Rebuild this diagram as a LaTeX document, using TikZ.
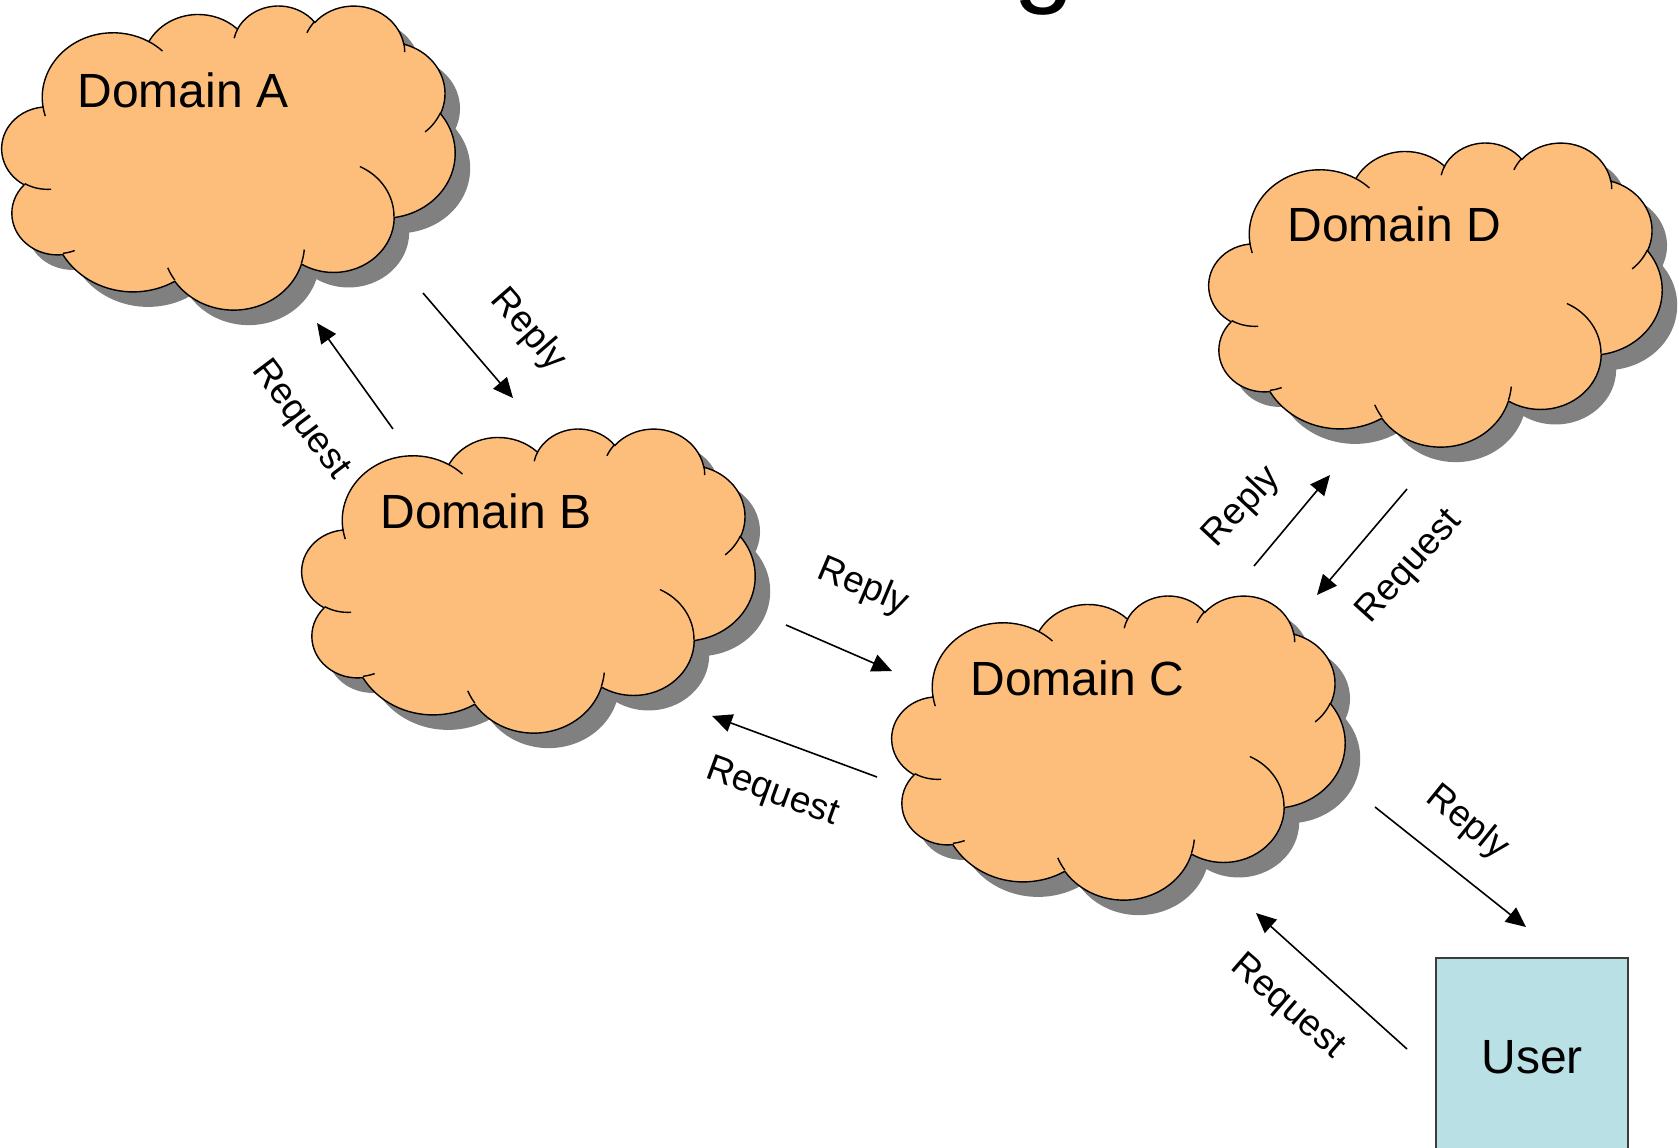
\documentclass[tikz,border=0pt]{standalone}
\usepackage{fontspec}
\setmainfont{Liberation Sans}
\usetikzlibrary{arrows.meta}
\definecolor{cloudfill}{RGB}{253,190,123}
\definecolor{shadowgray}{RGB}{128,128,128}
\definecolor{userfill}{RGB}{185,224,228}
\definecolor{userline}{RGB}{60,60,60}

% elliptical arc with "visual" start angle and sweep (DrawingML arcTo)
\def\carc#1#2#3#4{arc[x radius=#1, y radius=#2, start angle={atan2((#1)*sin(#3),(#2)*cos(#3))}, delta angle={mod(atan2((#1)*sin((#3)+(#4)),(#2)*cos((#3)+(#4)))-atan2((#1)*sin(#3),(#2)*cos(#3))+720,360)}]}

\def\cloudmain{(39,143.7)
 \carc{67.53}{91.90}{-190.4875}{123.7805}
 \carc{53.33}{72.67}{-144.1024}{89.9452}
 \carc{43.65}{59.45}{-145.8079}{99.7230}
 \carc{48.57}{65.95}{-130.9861}{117.2417}
 \carc{53.33}{72.73}{-78.7089}{109.0269}
 \carc{67.75}{92.20}{-46.2673}{130.2690}
 \carc{57.85}{78.67}{0.6250}{114.0333}
 \carc{67.52}{92.15}{22.4516}{115.1726}
 \carc{77.20}{105.43}{66.2426}{75.7110}
 \carc{43.60}{59.18}{-274.9421}{146.7356}
 \carc{43.45}{59.45}{-246.8285}{152.5189}
 -- cycle}

\def\cloudinner{(46.93,261.77) \carc{43.45}{59.45}{86.742}{26.4295}
 (69.28,348.99) \carc{43.60}{59.18}{73.6105}{11.4475}
 (164.78,390.90) \carc{67.52}{92.15}{137.6242}{14.0811}
 (288.27,347.51) \carc{67.52}{92.15}{6.4533}{15.9984}
 (341.29,229.54) \carc{57.85}{78.67}{-70.2924}{70.9174}
 (417.98,153.54) \carc{53.33}{72.73}{30.3180}{27.7515}
 (383.24,54.26) \carc{48.57}{65.95}{-13.7443}{14.8589}
 (290.78,39.52) \carc{48.57}{65.95}{-149.1815}{18.1954}
 (221.41,47.20) \carc{43.65}{59.45}{-163.4943}{17.6864}
 (140.00,51.92) \carc{67.53}{91.90}{-66.7070}{12.3194}
 (41.27,157.89) \carc{67.53}{91.90}{157.6544}{11.8582}}

\newcommand\drawcloud[2]{%
  \begin{scope}[shift={(#1+15,#2+15)}, xscale=1.0486, yscale=0.7037]
    \fill[shadowgray] \cloudmain;
  \end{scope}
  \begin{scope}[shift={(#1,#2)}, xscale=1.0486, yscale=0.7037]
    \filldraw[cloudline, fill=cloudfill] \cloudmain;
    \draw[cloudline] \cloudinner;
  \end{scope}}

\tikzset{
  cloudline/.style={draw=black, line width=0.7pt},
  domtext/.style={anchor=base west, inner sep=0pt, font=\fontsize{24}{28}\selectfont},
  msg/.style={-{Triangle[length=10pt,width=9pt]}, line width=0.8pt},
  lbl/.style={inner sep=0pt, font=\fontsize{18.5}{21}\selectfont},
  userbox/.style={draw=userline, line width=0.75pt, fill=userfill, inner sep=0pt,
    minimum width=96pt, minimum height=99pt, font=\fontsize{24}{28}\selectfont}
}

\begin{document}
\begin{tikzpicture}[x=0.5pt, y=-0.5pt]
\useasboundingbox (0,0) rectangle (1679,1147);
\clip (0,0) rectangle (1679,1147);
\fill[white] (0,0) rectangle (1679,1147);

% fragment of the cropped title
\node[anchor=base, inner sep=0pt, font=\fontsize{55}{60}\selectfont] (title) at (1044,-8) {g};

% clouds
\drawcloud{2}{5}
\drawcloud{302}{428}
\drawcloud{892}{595}
\drawcloud{1209}{142}

\node[domtext] (A) at (77,107) {Domain A};
\node[domtext] (B) at (380,528) {Domain B};
\node[domtext] (C) at (970,695) {Domain C};
\node[domtext] (D) at (1287,241) {Domain D};

% user
\node[userbox] (user) at (1532,1057) {User};

% arrow end points
\coordinate (abq1) at (393,429);  \coordinate (abq2) at (317,323);
\coordinate (abr1) at (423,293);  \coordinate (abr2) at (513,398);
\coordinate (bcr1) at (786,625);  \coordinate (bcr2) at (892,671);
\coordinate (cbq1) at (877,777);  \coordinate (cbq2) at (712,716);
\coordinate (cdr1) at (1254,566); \coordinate (cdr2) at (1330,475);
\coordinate (dcq1) at (1407,489); \coordinate (dcq2) at (1317,595);
\coordinate (cur1) at (1375,807); \coordinate (cur2) at (1526,927);
\coordinate (ucq1) at (1407,1049);\coordinate (ucq2) at (1256,913);

\draw[msg] (abq1) -- (abq2);
\draw[msg] (abr1) -- (abr2);
\draw[msg] (bcr1) -- (bcr2);
\draw[msg] (cbq1) -- (cbq2);
\draw[msg] (cdr1) -- (cdr2);
\draw[msg] (dcq1) -- (dcq2);
\draw[msg] (cur1) -- (cur2);
\draw[msg] (ucq1) -- (ucq2);

% labels
\node[lbl, rotate=-49] (l1) at (528,330) {Reply};
\node[lbl, rotate=-53] (l2) at (300,420) {Request};
\node[lbl, rotate=-23] (l3) at (863,587) {Reply};
\node[lbl, rotate=-20] (l4) at (772,793) {Request};
\node[lbl, rotate=47]  (l5) at (1242,507) {Reply};
\node[lbl, rotate=48]  (l6) at (1410,567) {Request};
\node[lbl, rotate=-39] (l7) at (1467,823) {Reply};
\node[lbl, rotate=-41] (l8) at (1287,1007) {Request};
\end{tikzpicture}
\end{document}
